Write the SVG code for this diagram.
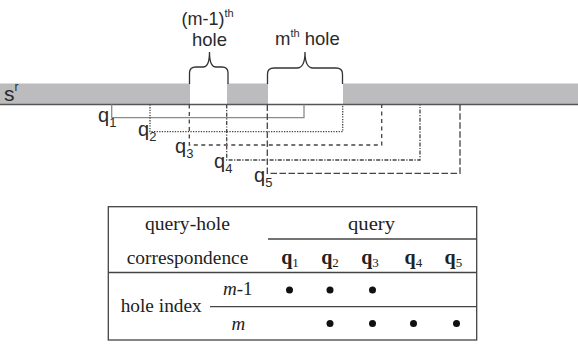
<svg xmlns="http://www.w3.org/2000/svg" width="578" height="344" viewBox="0 0 578 344">
<style>
.sans{font-family:"Liberation Sans",Arial,sans-serif;fill:#2a2a2a}
.serif{font-family:"Liberation Serif","Times New Roman",serif;fill:#222}
.brace{fill:none;stroke:#333;stroke-width:1.3}
.conn{fill:none;stroke-width:1.3}
.tl{stroke:#444;stroke-width:1.3;fill:none}
.dot{fill:#111}
</style>
<rect width="578" height="344" fill="#fff"/>
<g id="bar">
<rect x="0" y="83.5" width="190" height="21" fill="#bcbcbe"/>
<rect x="227" y="83.5" width="41" height="21" fill="#bcbcbe"/>
<rect x="343" y="83.5" width="235" height="21" fill="#bcbcbe"/>
<line x1="0" y1="104.5" x2="578" y2="104.5" stroke="#555" stroke-width="1.5"/>
<text class="sans" x="4" y="101" font-size="21">s<tspan font-size="12" dy="-10">r</tspan></text>
</g>
<g id="hole-m-1">
<path class="brace" d="M189.5,84 V73 Q189.5,67 196,67 H203 Q209.5,67 209.5,52 Q209.5,67 216,67 H222 Q228,67 228,73 V84"/>
<text class="sans" x="181.5" y="25" font-size="18">(m-1)<tspan font-size="11" dy="-8">th</tspan></text>
<text class="sans" x="209.5" y="46" font-size="18.5" text-anchor="middle">hole</text>
</g>
<g id="hole-m">
<path class="brace" d="M267.5,84 V74 Q267.5,68 274,68 H297 Q305,68 305,52 Q305,68 313,68 H336 Q342.5,68 342.5,74 V84"/>
<text class="sans" x="275" y="45" font-size="18.5">m<tspan font-size="11" dy="-8">th</tspan><tspan dy="8"> hole</tspan></text>
</g>
<g id="connectors">
<path class="conn" stroke="#8a8a8a" d="M111.7,104.5 V117.7 H304 V104.5"/>
<path class="conn" stroke="#444" stroke-dasharray="1.3,1.3" d="M150,104.5 V131.7 H342.7 V104.5"/>
<path class="conn" stroke="#444" stroke-dasharray="4,3.5" d="M189.3,104.5 V145 H381.7 V104.5"/>
<path class="conn" stroke="#444" stroke-dasharray="4,1.5,1.2,1.5" d="M226.7,104.5 V160 H420 V104.5"/>
<path class="conn" stroke="#444" stroke-dasharray="6.5,2.5" d="M267.3,104.5 V173.3 H460 V104.5"/>
</g>
<g id="query-labels" class="sans" font-size="20">
<text x="98" y="122">q<tspan font-size="13" dy="5">1</tspan></text>
<text x="138" y="135.5">q<tspan font-size="13" dy="5">2</tspan></text>
<text x="175" y="153">q<tspan font-size="13" dy="5">3</tspan></text>
<text x="214" y="168">q<tspan font-size="13" dy="5">4</tspan></text>
<text x="254" y="182">q<tspan font-size="13" dy="5">5</tspan></text>
</g>
<g id="table">
<rect class="tl" x="108.3" y="206.7" width="368.4" height="133.3"/>
<line class="tl" x1="268" y1="239" x2="476.7" y2="239"/>
<line class="tl" x1="108.3" y1="272.5" x2="476.7" y2="272.5"/>
<line class="tl" x1="210" y1="306.7" x2="476.7" y2="306.7"/>
<g class="serif" font-size="19">
<text x="145" y="230" textLength="85" lengthAdjust="spacingAndGlyphs">query-hole</text>
<text x="348" y="230" textLength="47" lengthAdjust="spacingAndGlyphs">query</text>
<text x="126.7" y="264" textLength="121.6" lengthAdjust="spacingAndGlyphs">correspondence</text>
<text x="120.7" y="312" textLength="81" lengthAdjust="spacingAndGlyphs">hole index</text>
<text x="223" y="295" font-size="19"><tspan font-style="italic">m</tspan>-1</text>
<text x="231.5" y="330" font-size="19" font-style="italic">m</text>
<g font-weight="bold" font-size="20">
<text x="281.2" y="264">q<tspan font-size="13" font-weight="normal" dy="3">1</tspan></text>
<text x="321.2" y="264">q<tspan font-size="13" font-weight="normal" dy="3">2</tspan></text>
<text x="361.2" y="264">q<tspan font-size="13" font-weight="normal" dy="3">3</tspan></text>
<text x="404.5" y="264">q<tspan font-size="13" font-weight="normal" dy="3">4</tspan></text>
<text x="444.5" y="264">q<tspan font-size="13" font-weight="normal" dy="3">5</tspan></text>
</g>
</g>
<circle class="dot" cx="289.5" cy="290" r="3.5"/>
<circle class="dot" cx="330" cy="290" r="3.5"/>
<circle class="dot" cx="372.5" cy="290" r="3.5"/>
<circle class="dot" cx="330" cy="323.5" r="3.5"/>
<circle class="dot" cx="372.5" cy="323.5" r="3.5"/>
<circle class="dot" cx="413.5" cy="323.5" r="3.5"/>
<circle class="dot" cx="456.5" cy="323.5" r="3.5"/>
</g>
</svg>
